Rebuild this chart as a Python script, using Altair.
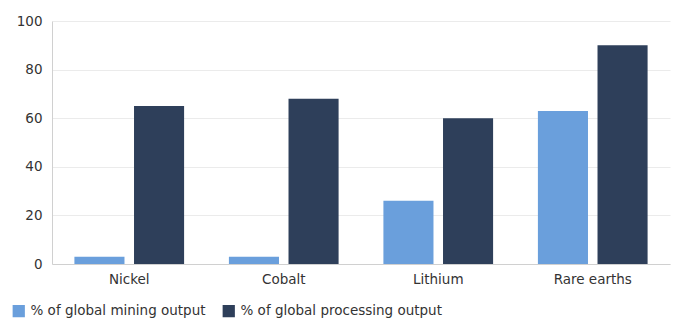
import altair as alt
import pandas as pd

categories = ["Nickel", "Cobalt", "Lithium", "Rare earths"]
mining = [3, 3, 26, 63]
processing = [65, 68, 60, 90]
series_names = ["% of global mining output", "% of global processing output"]
colors = ["#6a9fdc", "#2e3f5a"]

rows = []
for c, m, p in zip(categories, mining, processing):
    rows.append({"category": c, "series": series_names[0], "value": m})
    rows.append({"category": c, "series": series_names[1], "value": p})
df = pd.DataFrame(rows)

FONT = "DejaVu Sans"

chart = alt.Chart(df).mark_bar().encode(
    x=alt.X("category:N", sort=categories,
            scale=alt.Scale(paddingInner=0.29, paddingOuter=0.145),
            axis=alt.Axis(title=None, labelAngle=0, ticks=False, labelPadding=8,
                          domainColor="#d0d0d0", labelFontSize=13.5, labelColor="#333333",
                          labelFont=FONT)),
    xOffset=alt.XOffset("series:N", sort=series_names,
                        scale=alt.Scale(paddingInner=0.16)),
    y=alt.Y("value:Q", scale=alt.Scale(domain=[0, 100]),
            axis=alt.Axis(title=None, values=[0, 20, 40, 60, 80, 100], ticks=False,
                          labelPadding=10, domainColor="#d0d0d0", gridColor="#ebebeb",
                          labelFontSize=13.5, labelColor="#333333", labelFont=FONT)),
    color=alt.Color("series:N", sort=series_names,
                    scale=alt.Scale(domain=series_names, range=colors),
                    legend=alt.Legend(title=None, orient="none", direction="horizontal",
                                      legendX=-40, legendY=283, symbolType="square",
                                      symbolSize=150, symbolStrokeWidth=0,
                                      labelFontSize=13.5, labelColor="#333333", labelFont=FONT,
                                      columnPadding=16, labelOffset=5, labelLimit=300)),
).properties(
    width=618, height=243,
    autosize=alt.AutoSizeParams(type="none"),
    padding={"left": 52, "top": 21, "right": 3, "bottom": 58},
).configure_view(stroke=None).configure_axisX(grid=False)

chart.save("out.html", embed_options={"renderer": "svg", "actions": False})
